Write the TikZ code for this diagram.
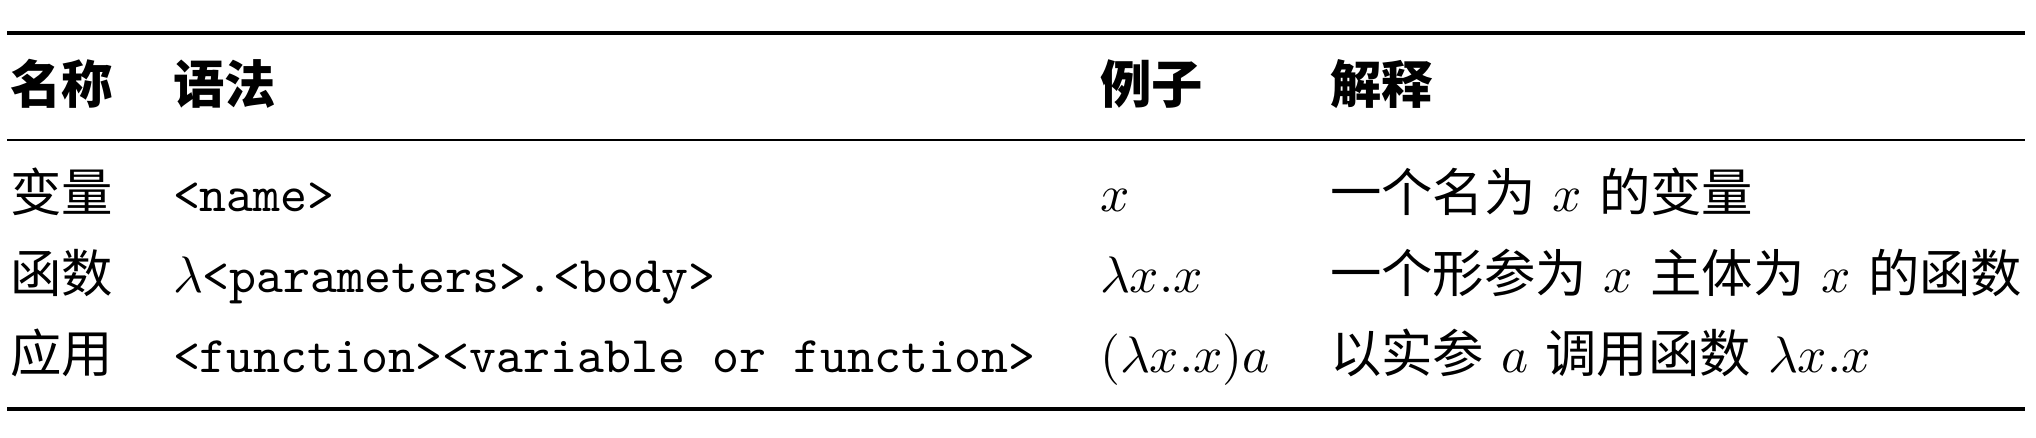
\documentclass[tikz,border=0pt]{standalone}
\usepackage{fontspec}
\newfontfamily\cjk{Noto Sans CJK SC}
\newcommand{\zh}[1]{{\cjk #1}}
\begin{document}
\begin{tikzpicture}[x=0.1947pt,y=-0.1947pt,
		cell/.style={anchor=base west,inner sep=0pt},
		head/.style={cell,font=\cjk\bfseries},
		heavyrule/.style={line width=0.8pt},
		lightrule/.style={line width=0.5pt}]
		\useasboundingbox (0,0) rectangle (2036,438);

		% rules
		\coordinate (topL) at (7,33);
		\coordinate (topR) at (2025,33);
		\coordinate (midL) at (7,140);
		\coordinate (midR) at (2025,140);
		\coordinate (botL) at (7,409);
		\coordinate (botR) at (2025,409);
		\draw[heavyrule] (topL) -- (topR);
		\draw[lightrule] (midL) -- (midR);
		\draw[heavyrule] (botL) -- (botR);

		% header
		\draw (9,104) node (hname) [head] {名称};
		\draw (172,104) node (hsyntax) [head] {语法};
		\draw (1099,104) node (hexample) [head] {例子};
		\draw (1329,104) node (hmeaning) [head] {解释};

		% variable
		\draw (9,212) node (varname) [cell] {\zh{变量}};
		\draw (172,212) node (varsyntax) [cell] {\texttt{<name>}};
		\draw (1099,212) node (varexample) [cell] {$x$};
		\draw (1329,212) node (varmeaning) [cell] {\zh{一个名为} $x$ \zh{的变量}};

		% function
		\draw (9,293) node (funname) [cell] {\zh{函数}};
		\draw (172,293) node (funsyntax) [cell] {$\lambda$\texttt{<parameters>.<body>}};
		\draw (1099,293) node (funexample) [cell] {$\lambda x.x$};
		\draw (1329,293) node (funmeaning) [cell] {\zh{一个形参为} $x$ \zh{主体为} $x$ \zh{的函数}};

		% application
		\draw (9,373) node (appname) [cell] {\zh{应用}};
		\draw (172,373) node (appsyntax) [cell] {\texttt{<function><variable or function>}};
		\draw (1099,373) node (appexample) [cell] {$(\lambda x.x)a$};
		\draw (1329,373) node (appmeaning) [cell] {\zh{以实参} $a$ \zh{调用函数} $\lambda x.x$};

	\end{tikzpicture}
\end{document}
